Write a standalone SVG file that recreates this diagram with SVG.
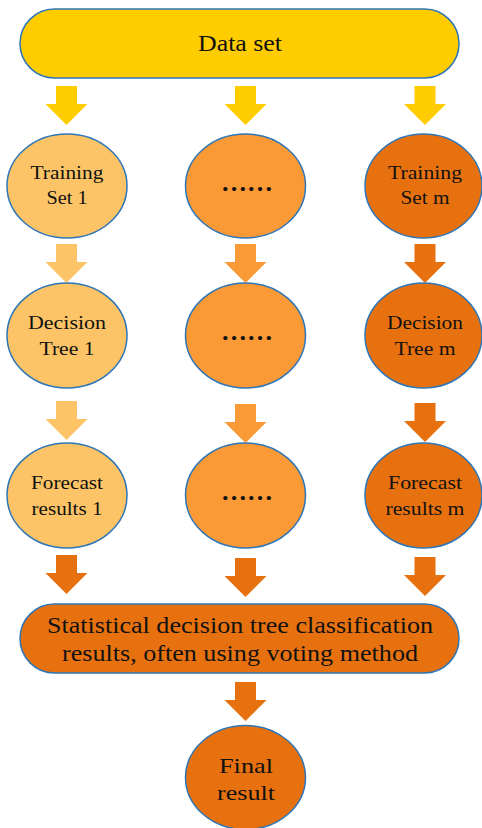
<svg xmlns="http://www.w3.org/2000/svg" width="482" height="828" viewBox="0 0 482 828">
  <style>
    .node { stroke: #2E75B6; stroke-width: 1.5; }
    .yellow { fill: #FFCC00; }
    .light { fill: #FCC466; }
    .mid { fill: #F99A36; }
    .dark { fill: #E8710F; }
    .label { fill: #111111; text-anchor: middle; font-family: "Liberation Serif", "DejaVu Serif", serif; }
    .t18 { font-size: 18px; }
    .dots { font-size: 26px; font-weight: bold; }
  </style>
  <defs>
    <!-- block arrow pointing down, tip at (0,0) -->
    <path id="arrow" d="M -10.5 -39 H 10.5 V -21 H 21 L 0 0 L -21 -21 H -10.5 Z"/>
  </defs>

  <rect width="482" height="828" fill="#FFFFFF"/>

  <g id="connectors">
    <use href="#arrow" class="yellow" x="66.5" y="125"/>
    <use href="#arrow" class="yellow" x="245.5" y="125"/>
    <use href="#arrow" class="yellow" x="425" y="125"/>

    <use href="#arrow" class="light" x="66.5" y="283"/>
    <use href="#arrow" class="mid" x="245.5" y="283"/>
    <use href="#arrow" class="dark" x="425" y="283"/>

    <use href="#arrow" class="light" x="66.5" y="440"/>
    <use href="#arrow" class="mid" x="245.5" y="443"/>
    <use href="#arrow" class="dark" x="425" y="442"/>

    <use href="#arrow" class="dark" x="66.5" y="594"/>
    <use href="#arrow" class="dark" x="245.5" y="597"/>
    <use href="#arrow" class="dark" x="425" y="596"/>

    <use href="#arrow" class="dark" x="245.5" y="721"/>
  </g>

  <g id="dataset">
    <rect class="node yellow" x="20" y="9" width="439" height="69" rx="34.5"/>
    <text class="label" x="240" y="51" font-size="24" textLength="84" lengthAdjust="spacingAndGlyphs">Data set</text>
  </g>

  <g id="training1">
    <ellipse class="node light" cx="67" cy="186" rx="60" ry="52"/>
    <text class="label t18" x="67" y="179" textLength="73" lengthAdjust="spacingAndGlyphs">Training</text>
    <text class="label t18" x="67" y="204" textLength="41" lengthAdjust="spacingAndGlyphs">Set 1</text>
  </g>
  <g id="training-mid">
    <ellipse class="node mid" cx="245.5" cy="186" rx="60" ry="52"/>
    <text class="label dots" x="247" y="191">……</text>
  </g>
  <g id="trainingm">
    <ellipse class="node dark" cx="423.5" cy="186" rx="58.5" ry="52"/>
    <text class="label t18" x="425" y="179" textLength="74" lengthAdjust="spacingAndGlyphs">Training</text>
    <text class="label t18" x="425" y="204" textLength="49" lengthAdjust="spacingAndGlyphs">Set m</text>
  </g>

  <g id="tree1">
    <ellipse class="node light" cx="67" cy="335.5" rx="60" ry="52.5"/>
    <text class="label t18" x="67" y="329" textLength="78" lengthAdjust="spacingAndGlyphs">Decision</text>
    <text class="label t18" x="67" y="355" textLength="55" lengthAdjust="spacingAndGlyphs">Tree 1</text>
  </g>
  <g id="tree-mid">
    <ellipse class="node mid" cx="245.5" cy="335.5" rx="60" ry="52.5"/>
    <text class="label dots" x="247" y="340">……</text>
  </g>
  <g id="treem">
    <ellipse class="node dark" cx="423.5" cy="335.5" rx="58.5" ry="52.5"/>
    <text class="label t18" x="425" y="329" textLength="76" lengthAdjust="spacingAndGlyphs">Decision</text>
    <text class="label t18" x="425" y="355" textLength="61" lengthAdjust="spacingAndGlyphs">Tree m</text>
  </g>

  <g id="forecast1">
    <ellipse class="node light" cx="67" cy="495.5" rx="60" ry="52.5"/>
    <text class="label t18" x="67" y="489" textLength="72" lengthAdjust="spacingAndGlyphs">Forecast</text>
    <text class="label t18" x="67" y="515" textLength="71" lengthAdjust="spacingAndGlyphs">results 1</text>
  </g>
  <g id="forecast-mid">
    <ellipse class="node mid" cx="245.5" cy="495.5" rx="60" ry="52.5"/>
    <text class="label dots" x="247" y="500">……</text>
  </g>
  <g id="forecastm">
    <ellipse class="node dark" cx="423.5" cy="495.5" rx="58.5" ry="52.5"/>
    <text class="label t18" x="425" y="489" textLength="74" lengthAdjust="spacingAndGlyphs">Forecast</text>
    <text class="label t18" x="425" y="515" textLength="79" lengthAdjust="spacingAndGlyphs">results m</text>
  </g>

  <g id="voting">
    <rect class="node dark" x="20" y="604" width="439" height="69" rx="34.5"/>
    <text class="label" x="240" y="633" font-size="23" textLength="386" lengthAdjust="spacingAndGlyphs">Statistical decision tree classification</text>
    <text class="label" x="240" y="661" font-size="23" textLength="356" lengthAdjust="spacingAndGlyphs">results, often using voting method</text>
  </g>

  <g id="final">
    <ellipse class="node dark" cx="245.5" cy="777.5" rx="60" ry="52"/>
    <text class="label" x="246" y="773" font-size="22" textLength="54" lengthAdjust="spacingAndGlyphs">Final</text>
    <text class="label" x="246" y="800" font-size="22" textLength="58" lengthAdjust="spacingAndGlyphs">result</text>
  </g>
</svg>
